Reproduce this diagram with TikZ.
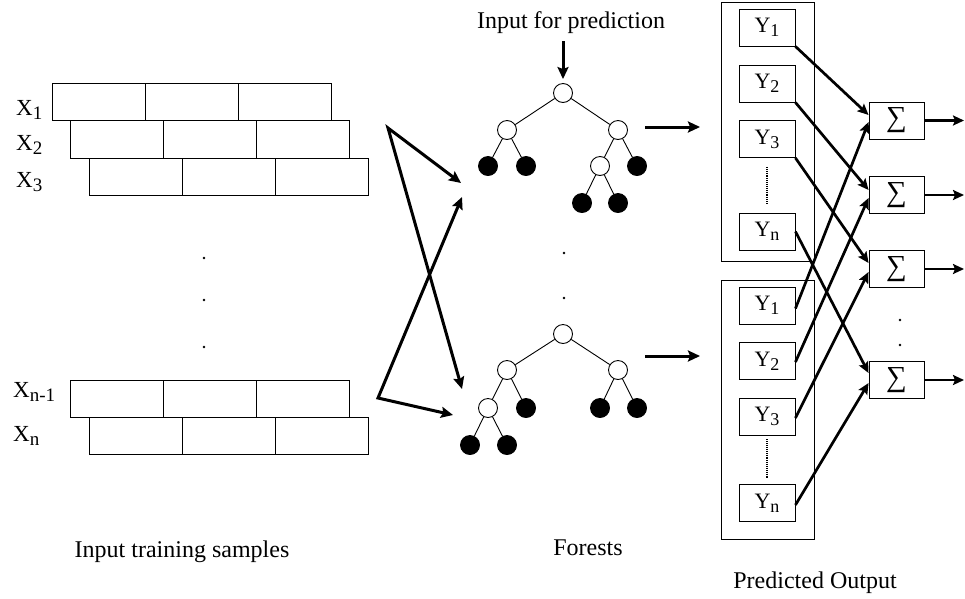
\documentclass[tikz,border=0pt]{standalone}
\usepackage{fontspec}
\setmainfont{Liberation Serif}
\usetikzlibrary{arrows.meta,calc}

% lowered subscript in text size
\newcommand\lowsub[2]{\raisebox{-0.4ex}{\fontsize{#1}{#1}\selectfont #2}}

\begin{document}
\begin{tikzpicture}[x=1pt,y=-1pt,
  cell/.style={draw, line width=0.9pt, minimum width=93pt, minimum height=37pt,
               inner sep=0pt, anchor=north west},
  onode/.style={circle, draw, line width=0.9pt, fill=white, minimum size=19pt, inner sep=0pt},
  lnode/.style={onode, fill=black},
  tedge/.style={line width=0.9pt},
  bigarrow/.style={line width=3pt, -{Stealth[length=12pt,width=11pt,inset=2pt]}},
  dblarrow/.style={line width=3pt, miter limit=20,
    {Stealth[length=12pt,width=11pt,inset=2pt]}-{Stealth[length=12pt,width=11pt,inset=2pt]}},
  yarrow/.style={line width=2.7pt, -{Stealth[length=11pt,width=10pt,inset=2pt]}},
  ybox/.style={draw, line width=0.9pt, minimum width=56pt, minimum height=37pt,
               inner sep=0pt, font=\fontsize{22}{22}\selectfont},
  sbox/.style={draw, line width=0.9pt, minimum width=55pt, minimum height=37pt,
               inner sep=0pt, font=\fontsize{29}{29}\selectfont},
  group/.style={draw, line width=0.9pt, minimum width=93pt, minimum height=259pt, inner sep=0pt},
  xlbl/.style={anchor=base west, inner sep=0pt, font=\fontsize{23}{23}\selectfont},
  lbl/.style={inner sep=0pt, anchor=base, font=\fontsize{24}{28}\selectfont},
  vdots/.style={dash pattern=on 1pt off 0.9pt, line width=1.8pt}
]
\useasboundingbox (0,0) rectangle (965,598);

% ---------- training samples ----------
\foreach \k in {0,1,2} {
  \node[cell] (ra\k) at (52+93*\k,83) {};
  \node[cell, minimum height=38pt] (rb\k) at (70+93*\k,120) {};
  \node[cell] (rc\k) at (89+93*\k,158) {};
  \node[cell] (rd\k) at (70+93*\k,380) {};
  \node[cell] (re\k) at (89+93*\k,417) {};
}
\node[xlbl] (x1) at (16,115) {X\lowsub{19}{1}};
\node[xlbl] (x2) at (16,150) {X\lowsub{19}{2}};
\node[xlbl] (x3) at (16,187) {X\lowsub{19}{3}};
\node[xlbl] (xm) at (13,397) {X\lowsub{19}{n-1}};
\node[xlbl] (xn) at (13,441) {X\lowsub{19}{n}};
\foreach \y in {258,300,347} \fill (204,\y) circle (1.3);

% ---------- bootstrap arrows ----------
\coordinate (v1) at (388,128);
\coordinate (v2) at (378,398);
\coordinate (e1) at (461,183);
\coordinate (e2) at (462,389);
\coordinate (e3) at (453,415);
\coordinate (e4) at (462,197);
\draw[dblarrow] (e1) -- (v1) -- (e2);
\draw[dblarrow] (e4) -- (v2) -- (e3);

% ---------- forests ----------
\node[lbl] (inp) at (571,28) {Input for prediction};
\coordinate (ip) at (563,41);

\node[onode] (t1r) at (563,93) {};
\node[onode] (t1a) at (507,130) {};
\node[onode] (t1b) at (618,130) {};
\node[lnode] (t1c) at (488,166) {};
\node[lnode] (t1d) at (526,166) {};
\node[onode] (t1e) at (600,166) {};
\node[lnode] (t1f) at (637,166) {};
\node[lnode] (t1g) at (582,203) {};
\node[lnode] (t1h) at (618,203) {};
\draw[tedge] (t1r) -- (t1a) (t1r) -- (t1b) (t1a) -- (t1c) (t1a) -- (t1d)
             (t1b) -- (t1e) (t1b) -- (t1f) (t1e) -- (t1g) (t1e) -- (t1h);
\draw[bigarrow, shorten >=4pt] (ip) -- (t1r);

\fill (564,253) circle (1.3);
\fill (564,298) circle (1.3);

\node[onode] (t2r) at (563,334) {};
\node[onode] (t2a) at (507,370) {};
\node[onode] (t2b) at (618,370) {};
\node[onode] (t2c) at (488,408) {};
\node[lnode] (t2d) at (526,408) {};
\node[lnode] (t2e) at (600,408) {};
\node[lnode] (t2f) at (637,408) {};
\node[lnode] (t2g) at (470,445) {};
\node[lnode] (t2h) at (507,445) {};
\draw[tedge] (t2r) -- (t2a) (t2r) -- (t2b) (t2a) -- (t2c) (t2a) -- (t2d)
             (t2b) -- (t2e) (t2b) -- (t2f) (t2c) -- (t2g) (t2c) -- (t2h);

\coordinate (f1s) at (645,127);
\coordinate (f1e) at (700,127);
\coordinate (f2s) at (645,356);
\coordinate (f2e) at (700,356);
\draw[bigarrow] (f1s) -- (f1e);
\draw[bigarrow] (f2s) -- (f2e);

% ---------- predicted outputs ----------
\node[group] (ga) at (767.5,131.5) {};
\node[group] (gb) at (767.5,409.5) {};

\node[ybox] (ya1) at (767,27.5) {Y\lowsub{18}{1}};
\node[ybox] (ya2) at (767,83.5) {Y\lowsub{18}{2}};
\node[ybox] (ya3) at (767,139) {Y\lowsub{18}{3}};
\node[ybox] (yan) at (767,231.5) {Y\lowsub{18}{n}};
\node[ybox] (yb1) at (767,305.5) {Y\lowsub{18}{1}};
\node[ybox] (yb2) at (767,361) {Y\lowsub{18}{2}};
\node[ybox] (yb3) at (767,416.5) {Y\lowsub{18}{3}};
\node[ybox] (ybn) at (767,503) {Y\lowsub{18}{n}};
\draw[vdots] ($(ya3.south)+(0,9)$) -- ($(yan.north)+(0,-8)$);
\draw[vdots] ($(yb3.south)+(0,4)$) -- ($(ybn.north)+(0,-5)$);

\node[sbox] (s1) at (896.5,120.5) {∑};
\node[sbox] (s2) at (896.5,195) {∑};
\node[sbox] (s3) at (896.5,269) {∑};
\node[sbox] (s4) at (896.5,380) {∑};
\fill (900,320) circle (1.3);
\fill (900,345) circle (1.3);

\draw[yarrow] (ya1.south east) -- ([yshift=5.5pt]s1.west);
\draw[yarrow] (ya2.south east) -- ([yshift=5pt]s2.west);
\draw[yarrow] (ya3.south east) -- ([yshift=6pt]s3.west);
\draw[yarrow] (yan.east) -- ([yshift=7pt]s4.west);
\draw[yarrow] ([yshift=-3pt]yb1.east) -- ([yshift=-1.5pt]s1.west);
\draw[yarrow] ([yshift=-1pt]yb2.east) -- ([yshift=-3pt]s2.west);
\draw[yarrow] ([yshift=-1.5pt]yb3.east) -- ([yshift=-3pt]s3.west);
\draw[yarrow] ([yshift=-2pt]ybn.east) -- ([yshift=-3pt]s4.west);

\foreach \i/\y in {1/120.5,2/195,3/269,4/380} {
  \coordinate (o\i) at (964,\y);
  \draw[yarrow] (s\i.east) -- (o\i);
}

% ---------- captions ----------
\node[lbl] (cap1) at (182,557) {Input training samples};
\node[lbl] (cap2) at (588,555) {Forests};
\node[lbl] (cap3) at (815,588) {Predicted Output};
\end{tikzpicture}
\end{document}
